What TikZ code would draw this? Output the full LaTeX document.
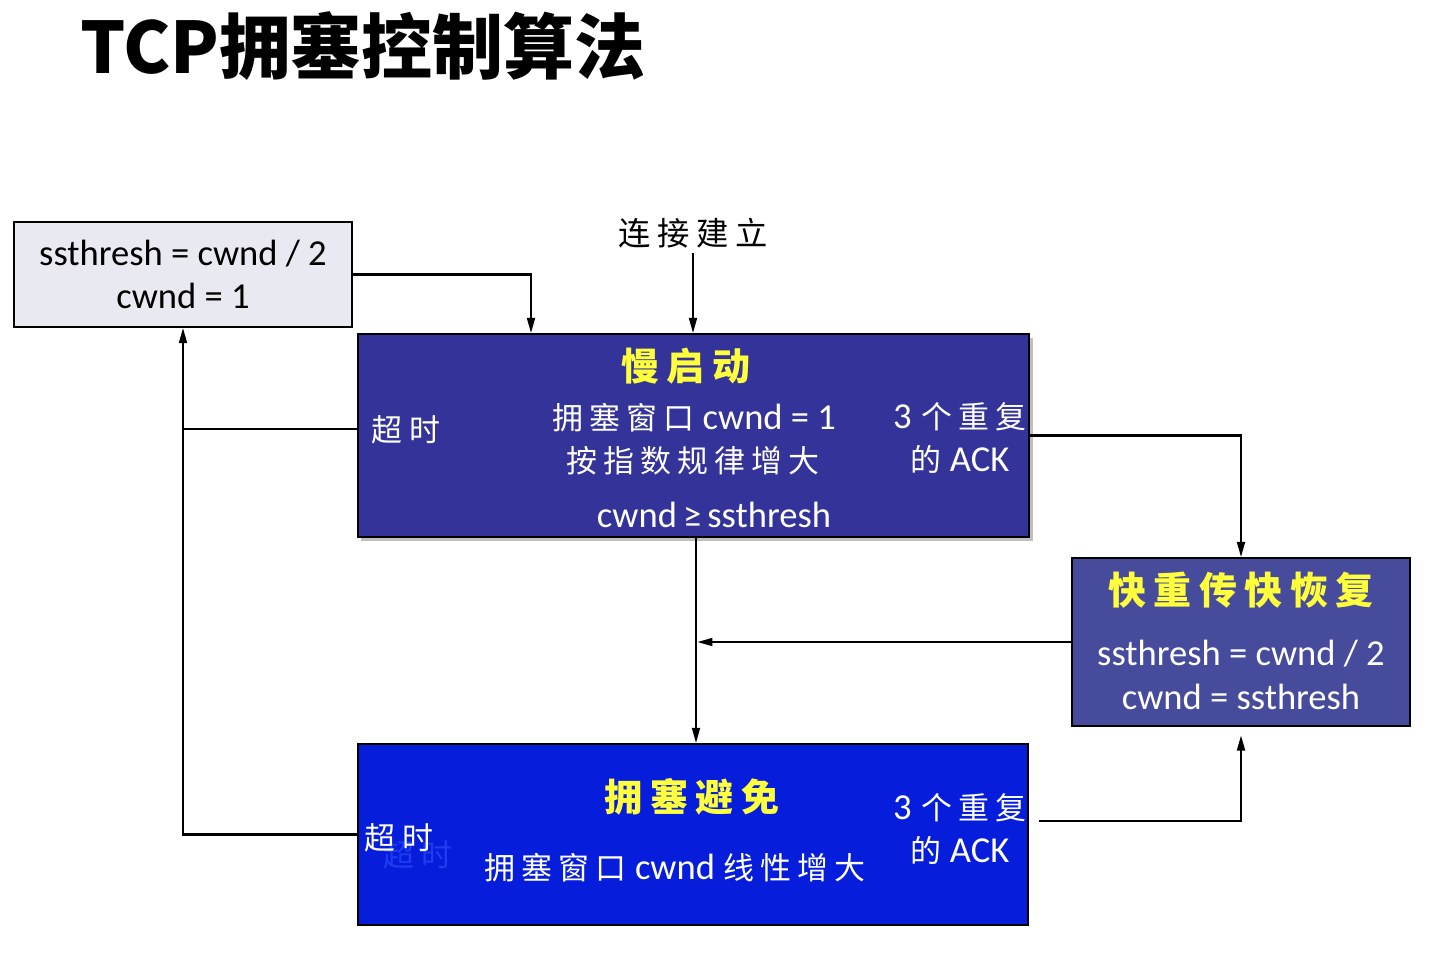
\documentclass[tikz,border=0pt]{standalone}
\usepackage{fontspec}
\setmainfont{Carlito}
\newfontfamily\cjk[LetterSpace=20]{Noto Sans CJK SC}
\newfontfamily\cjktitle{Noto Sans CJK SC}
\usetikzlibrary{arrows.meta, shadows}
\definecolor{TCPGray}{RGB}{233,233,241}
\definecolor{TCPSlow}{RGB}{51,51,153}
\definecolor{TCPFast}{RGB}{71,75,156}
\definecolor{TCPBlue}{RGB}{6,30,220}
\definecolor{TCPYellow}{RGB}{255,255,60}
\definecolor{TCPGhost}{RGB}{30,60,240}
\newcommand{\zh}[1]{{\cjk\fontsize{22}{31}\selectfont #1}}

\begin{document}
\begin{tikzpicture}[x=0.025cm, y=-0.025cm,
      box/.style={rectangle, draw=black, line width=0.9pt, inner sep=0pt},
      arr/.style={-{Triangle[length=11pt, width=5.5pt]}, line width=1.8pt},
      link/.style={line width=1.8pt},
      txt/.style={text=white, font=\fontsize{26}{31}\selectfont, align=center},
      head/.style={text=TCPYellow, font=\cjk\bfseries\fontsize{27}{32}\selectfont}
    ]
    \useasboundingbox (0,0) rectangle (1432,956);

    %--- Title ---
    \node[anchor=base west, inner sep=0pt, font=\cjktitle\bfseries\fontsize{50.5}{60}\selectfont]
          (title) at (80,73) {TCP拥塞控制算法};

    %--- Boxes ---
    \node[box, fill=TCPGray, minimum width=8.45cm, minimum height=2.625cm,
          align=center, font=\fontsize{26}{31}\selectfont]
          (ss) at (183,274.5) {ssthresh = cwnd / 2\\cwnd = 1};
    \node[box, fill=TCPSlow, minimum width=16.775cm, minimum height=5.075cm,
          drop shadow={shadow xshift=2.5pt, shadow yshift=-2.5pt, fill=black!50}]
          (slow) at (693.5,435.5) {};
    \node[box, fill=TCPFast, minimum width=8.45cm, minimum height=4.2cm]
          (fr) at (1241,642) {};
    \node[box, fill=TCPBlue, minimum width=16.75cm, minimum height=4.525cm]
          (ca) at (693,834.5) {};

    %--- Slow start text ---
    \node[head] (slowhead) at (686,366) {慢启动};
    \node[txt] (slowline1) at (694,418) {\zh{拥塞窗口} cwnd = 1};
    \node[txt] (slowline2) at (693,461) {\zh{按指数规律增大}};
    \node[txt] (slowcond) at (714,515) {cwnd\,≥\,ssthresh};
    \node[txt] (slowto) at (406,430) {\zh{超时}};
    \node[txt] (slowack) at (960,438) {3\hspace{7pt}\zh{个重复}\\\zh{的} ACK};

    %--- Fast recovery text ---
    \node[head] (frhead) at (1241,590) {快重传快恢复};
    \node[txt] (frtext) at (1241,675) {ssthresh = cwnd / 2\\cwnd = ssthresh};

    %--- Congestion avoidance text ---
    \node[head] (cahead) at (692,797) {拥塞避免};
    \node[txt] (caline) at (675,868) {\zh{拥塞窗口} cwnd \zh{线性增大}};
    \node[txt, text=TCPGhost] (caghost) at (418,855) {\zh{超时}};
    \node[txt] (cato) at (399,838) {\zh{超时}};
    \node[txt] (caack) at (960,829) {3\hspace{7pt}\zh{个重复}\\\zh{的} ACK};

    %--- Entry ---
    \node[font=\cjk\fontsize{23}{28}\selectfont] (conn) at (693,233) {连接建立};

    %--- Connectors ---
    \draw[arr] (conn.south) -- (conn.south |- slow.north);
    \draw[arr] (ss.east) -| (slow.north -| 531,0);
    \draw[arr] (slow.south -| 696,0) -- (ca.north -| 696,0);
    \draw[arr] (fr.west) -- (fr.west -| 697,0);
    \draw[arr] (slow.east) -| (fr.north);
    \draw[arr, shorten <=7pt, shorten >=6pt] (ca.east |- 0,821) -| (fr.south);
    \draw[link] (slow.west |- 0,429) -- (ss.south |- 0,429);
    \draw[arr] (ca.west) -| (ss.south);
  \end{tikzpicture}
\end{document}
